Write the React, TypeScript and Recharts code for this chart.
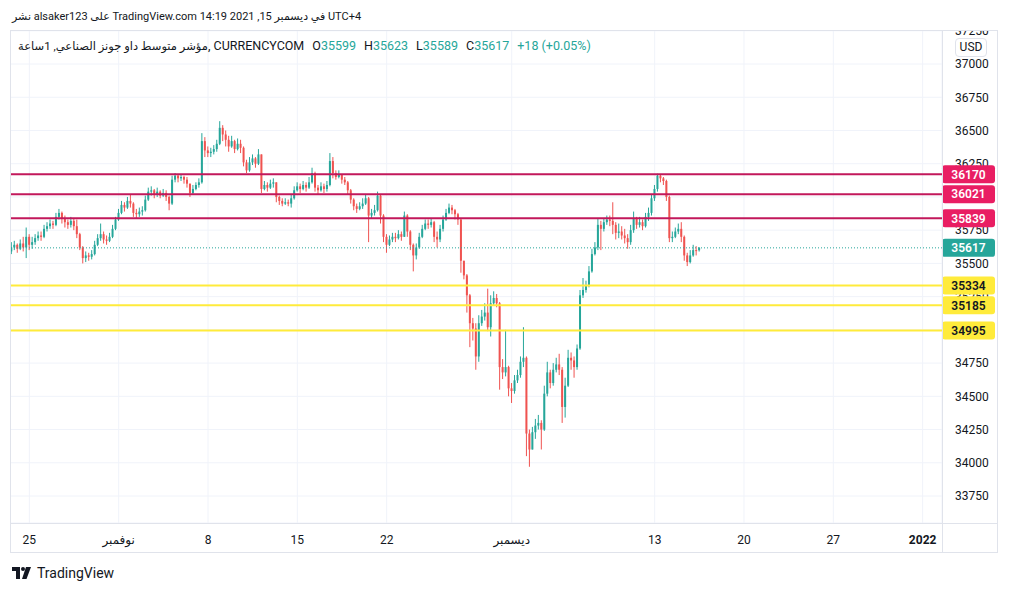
import React from 'react';
import { ComposedChart, Bar, XAxis, YAxis, CartesianGrid, ReferenceLine } from 'recharts';

// 4-hour candles: [close, high, low], open = previous close
const firstOpen = 35590;

const wkOct22 = [
  [35620, 35660, 35570], [35640, 35670, 35600], [35610, 35650, 35580], [35650, 35680, 35600], [35620, 35700, 35590], [35700, 35770, 35540],
];

const wkOct25 = [
  [35640, 35720, 35600], [35660, 35700, 35610], [35690, 35720, 35640], [35710, 35740, 35670], [35700, 35740, 35670], [35760, 35790, 35690],
  [35780, 35810, 35740], [35800, 35830, 35760], [35790, 35820, 35760], [35850, 35880, 35780], [35880, 35910, 35830], [35840, 35890, 35800],
  [35810, 35860, 35770], [35790, 35830, 35760], [35820, 35850, 35770], [35780, 35840, 35750], [35720, 35830, 35690], [35620, 35730, 35600],
  [35540, 35630, 35500], [35560, 35590, 35510], [35550, 35580, 35520], [35570, 35600, 35530], [35640, 35670, 35560], [35690, 35720, 35630],
  [35720, 35800, 35670], [35680, 35740, 35650], [35670, 35710, 35640], [35700, 35730, 35660], [35760, 35790, 35690], [35830, 35850, 35750],
];

const wkNov1 = [
  [35880, 35910, 35820], [35940, 35970, 35870], [35920, 35960, 35890], [35970, 36000, 35910], [35950, 36015, 35920], [35880, 35960, 35850],
  [35870, 35910, 35840], [35890, 35920, 35850], [35900, 35930, 35860], [35980, 36010, 35890], [36040, 36070, 35970], [36050, 36080, 36010],
  [36020, 36060, 35990], [36040, 36070, 36000], [36010, 36050, 35990], [36030, 36060, 36000], [36000, 36050, 35970], [35950, 36010, 35900],
  [36130, 36160, 35940], [36160, 36180, 36110], [36140, 36170, 36110], [36150, 36170, 36120], [36130, 36160, 36100], [36100, 36150, 36070],
  [36030, 36080, 36000], [36060, 36090, 36020], [36090, 36110, 36050], [36110, 36140, 36070], [36420, 36480, 36100], [36350, 36450, 36300],
];

const wkNov8 = [
  [36330, 36380, 36300], [36340, 36370, 36300], [36360, 36390, 36320], [36400, 36430, 36340], [36520, 36570, 36390], [36470, 36540, 36420],
  [36430, 36500, 36380], [36380, 36460, 36340], [36420, 36460, 36370], [36360, 36430, 36330], [36400, 36440, 36350], [36370, 36430, 36330],
  [36260, 36380, 36230], [36200, 36280, 36180], [36260, 36300, 36190], [36290, 36320, 36240], [36250, 36300, 36220], [36320, 36360, 36240],
  [36060, 36320, 36030], [36090, 36120, 36050], [36070, 36110, 36040], [36100, 36130, 36060], [36110, 36140, 36070], [36000, 36110, 35960],
  [35970, 36010, 35940], [35950, 35990, 35930], [35960, 35990, 35940], [35950, 35980, 35930], [35990, 36020, 35920], [36050, 36080, 35980],
];

const wkNov15 = [
  [36080, 36110, 36040], [36060, 36100, 36030], [36090, 36120, 36050], [36070, 36110, 36040], [36110, 36150, 36060], [36180, 36220, 36100],
  [36070, 36190, 36040], [36050, 36090, 36020], [36080, 36110, 36040], [36060, 36100, 36030], [36090, 36120, 36040], [36270, 36330, 36080],
  [36180, 36300, 36140], [36150, 36200, 36130], [36170, 36200, 36140], [36130, 36170, 36100], [36110, 36150, 36090], [36050, 36120, 36020],
  [35980, 36060, 35950], [35930, 35990, 35900], [35910, 35950, 35880], [35930, 35960, 35900], [35950, 35990, 35910], [35990, 36020, 35940],
  [35860, 36000, 35660], [35880, 35910, 35840], [35900, 35940, 35860], [36010, 36040, 35890], [35860, 36020, 35800], [35700, 35870, 35660],
];

const wkNov22 = [
  [35640, 35720, 35580], [35680, 35710, 35630], [35700, 35730, 35660], [35690, 35730, 35660], [35720, 35750, 35680], [35700, 35740, 35670],
  [35860, 35890, 35700], [35740, 35870, 35700], [35640, 35750, 35600], [35560, 35650, 35440], [35620, 35650, 35530], [35700, 35730, 35610],
  [35760, 35790, 35690], [35800, 35830, 35750], [35790, 35830, 35760], [35810, 35840, 35770], [35700, 35820, 35660], [35680, 35740, 35620],
  [35760, 35790, 35660], [35830, 35860, 35740], [35880, 35910, 35820], [35920, 35950, 35870], [35900, 35940, 35870], [35870, 35910, 35830],
  [35830, 35880, 35790], [35520, 35840, 35430], [35410, 35480, 35380], [35260, 35420, 35130], [35050, 35270, 34870], [35010, 35090, 34920],
];

const wkNov29 = [
  [34800, 35050, 34700], [35050, 35110, 34760], [35100, 35150, 35030], [35130, 35200, 35070], [35020, 35310, 34990], [35200, 35260, 34950],
  [35240, 35290, 35180], [35200, 35270, 35170], [34720, 35210, 34550], [34680, 34780, 34630], [34720, 35000, 34650], [34560, 34730, 34500],
  [34540, 34600, 34450], [34620, 34660, 34520], [34660, 34700, 34600], [34760, 34800, 34640], [34790, 35020, 34720], [34220, 34800, 34050],
  [34100, 34250, 33970], [34230, 34270, 34100], [34280, 34330, 34180], [34300, 34360, 34250], [34250, 34320, 34100], [34520, 34580, 34240],
  [34680, 34760, 34500], [34600, 34700, 34560], [34700, 34750, 34580], [34740, 34790, 34680], [34700, 34820, 34660], [34420, 34720, 34300],
];

const wkDec6 = [
  [34580, 34640, 34340], [34790, 34850, 34570], [34770, 34830, 34700], [34720, 34800, 34640], [34860, 34890, 34700], [35260, 35300, 34850],
  [35300, 35390, 35240], [35330, 35370, 35280], [35440, 35480, 35320], [35570, 35610, 35430], [35620, 35660, 35560], [35790, 35840, 35600],
  [35760, 35820, 35600], [35810, 35840, 35740], [35830, 35860, 35790], [35820, 35860, 35780], [35790, 35960, 35720], [35730, 35810, 35680],
  [35740, 35800, 35690], [35710, 35780, 35680], [35690, 35760, 35650], [35660, 35720, 35610], [35750, 35790, 35640], [35840, 35890, 35730],
  [35790, 35850, 35760], [35810, 35850, 35770], [35780, 35830, 35750], [35850, 35880, 35770], [35880, 35920, 35820], [35990, 36020, 35860],
];

const wkDec13 = [
  [36060, 36090, 35970], [36160, 36175, 36040], [36140, 36170, 36110], [36120, 36150, 36090], [36000, 36130, 35970], [35690, 36010, 35660],
  [35700, 35740, 35660], [35740, 35770, 35690], [35760, 35800, 35720], [35700, 35810, 35660], [35560, 35710, 35520], [35510, 35580, 35480],
  [35560, 35600, 35500], [35600, 35640, 35550], [35599, 35630, 35560], [35617, 35623, 35589],
];

const totalSlots = 313;
const tickSlots = [6, 36, 66, 96, 126, 168, 216, 246, 276, 306];
const tickLabels = ['25', 'نوفمبر', '8', '15', '22', 'ديسمبر', '13', '20', '27', '2022'];
const priceTicks = [33750, 34000, 34250, 34500, 34750, 35000, 35250, 35500, 35750, 36000, 36250, 36500, 36750, 37000, 37250];
const resistance = [36170, 36021, 35839];
const support = [35334, 35185, 34995];
const lastPrice = 35617;
const priceDomain = [33547, 37256];

const UP = '#26a69a';
const DOWN = '#ef5350';
const PINK = '#e91e63';
const PINK_LINE = '#c2185b';
const YELLOW = '#ffeb3b';
const TEXT = '#131722';
const GRID = '#f0f3fa';
const BORDER = '#e0e3eb';

const candles = [...wkOct22, ...wkOct25, ...wkNov1, ...wkNov8, ...wkNov15, ...wkNov22, ...wkNov29, ...wkDec6, ...wkDec13];

const data: any[] = [];
let prev = firstOpen;
for (let i = 0; i < totalSlots; i++) {
  const k = candles[i];
  if (k) {
    const [c, h, l] = k;
    const o = prev;
    const hi = Math.max(h, o, c);
    const lo = Math.min(l, o, c);
    data.push({ i, o, c, h: hi, l: lo, range: [lo, hi] });
    prev = c;
  } else {
    data.push({ i, range: null });
  }
}

const Candle = (props: any) => {
  const { x, y, width, height, payload } = props;
  if (!payload || payload.o == null) return null;
  const top = Math.min(y, y + height);
  const hPx = Math.abs(height);
  const span = payload.h - payload.l || 1;
  const py = (v: number) => top + ((payload.h - v) / span) * hPx;
  const cx = x + width / 2;
  const color = payload.c >= payload.o ? UP : DOWN;
  const bTop = py(Math.max(payload.o, payload.c));
  const bBot = py(Math.min(payload.o, payload.c));
  const bw = 2;
  return (
    <g>
      <line x1={cx} x2={cx} y1={top} y2={top + hPx} stroke={color} strokeWidth={1} />
      <rect x={cx - bw / 2} y={bTop} width={bw} height={Math.max(1, bBot - bTop)} fill={color} />
    </g>
  );
};

const XTick = (props: any) => {
  const { x, y, payload } = props;
  const idx = tickSlots.indexOf(payload.value);
  const label = idx >= 0 ? tickLabels[idx] : '';
  return (
    <text x={x} y={y + 19} textAnchor="middle" fontSize={12} fill={TEXT} fontWeight={label === '2022' ? 700 : 400}>
      {label}
    </text>
  );
};

const priceTag = (value: number, bg: string, fg: string) => (props: any) => {
  const vb = props.viewBox;
  if (!vb) return null;
  const x = vb.x + vb.width;
  const y = vb.y;
  return (
    <g>
      <rect x={x} y={y - 9} width={53} height={18} rx={3} fill={bg} />
      <text x={x + 26.5} y={y} dy="0.36em" textAnchor="middle" fontSize={12} fontWeight={600} fill={fg}>
        {value}
      </text>
    </g>
  );
};

const chartBox = { position: 'absolute' as const, left: 10, top: 30 };
const chartMargin = { top: 0, right: 0, bottom: 0, left: 0 };

export default function App() {
  return (
    <div
      style={{
        position: 'fixed',
        left: 0,
        top: 0,
        width: 1010,
        height: 592,
        background: '#ffffff',
        fontFamily: 'Roboto, "DejaVu Sans", sans-serif',
        color: TEXT,
        overflow: 'hidden',
      }}
    >
      <div dir="rtl" style={{ position: 'absolute', left: 12, top: 10, fontSize: 11, whiteSpace: 'nowrap', display: 'inline-block' }}>
        UTC+4 في ديسمبر 15, 2021 14:19 TradingView.com على alsaker123 نشر
      </div>

      {/* candles, grid and axes */}
      <div style={chartBox}>
        <ComposedChart width={988} height={523} data={data} margin={chartMargin}>
          <CartesianGrid stroke={GRID} />
          <XAxis
            dataKey="i"
            type="category"
            ticks={tickSlots}
            interval={0}
            height={30}
            tickLine={false}
            axisLine={false}
            tickSize={0}
            tick={<XTick />}
          />
          <YAxis
            orientation="right"
            width={56}
            type="number"
            domain={priceDomain}
            allowDataOverflow
            ticks={priceTicks}
            interval={0}
            tickLine={false}
            axisLine={false}
            tickSize={0}
            tickMargin={13}
            tick={{ fill: TEXT, fontSize: 12 }}
          />
          <Bar dataKey="range" shape={<Candle />} isAnimationActive={false} />
        </ComposedChart>
      </div>

      {/* horizontal levels and their price tags, drawn above the price scale */}
      <div style={chartBox}>
        <ComposedChart width={988} height={523} data={data} margin={chartMargin}>
          <XAxis dataKey="i" type="category" height={30} tick={false} tickLine={false} axisLine={false} />
          <YAxis
            orientation="right"
            width={56}
            type="number"
            domain={priceDomain}
            allowDataOverflow
            tick={false}
            tickLine={false}
            axisLine={false}
          />
          <ReferenceLine y={lastPrice} stroke={UP} strokeDasharray="1 2" strokeWidth={1} label={priceTag(lastPrice, UP, '#ffffff')} />
          {resistance.map((v) => (
            <ReferenceLine key={v} y={v} stroke={PINK_LINE} strokeWidth={2} label={priceTag(v, PINK, '#ffffff')} />
          ))}
          {support.map((v) => (
            <ReferenceLine key={v} y={v} stroke={YELLOW} strokeWidth={2} label={priceTag(v, YELLOW, TEXT)} />
          ))}
        </ComposedChart>
      </div>

      {/* frame */}
      <div style={{ position: 'absolute', left: 10, top: 30, width: 988, height: 523, boxSizing: 'border-box', border: `1px solid ${BORDER}`, pointerEvents: 'none' }} />
      <div style={{ position: 'absolute', left: 10, top: 523, width: 988, height: 1, background: BORDER }} />
      <div style={{ position: 'absolute', left: 942, top: 30, width: 1, height: 523, background: BORDER }} />

      <div
        style={{
          position: 'absolute',
          left: 955,
          top: 38,
          width: 32,
          height: 19,
          boxSizing: 'border-box',
          border: `1px solid ${BORDER}`,
          borderRadius: 4,
          background: '#ffffff',
          fontSize: 12,
          lineHeight: '17px',
          textAlign: 'center',
        }}
      >
        USD
      </div>

      <div style={{ position: 'absolute', left: 18, top: 38, fontSize: 12.5, whiteSpace: 'nowrap', display: 'flex', alignItems: 'baseline', gap: 8 }}>
        <span dir="ltr">
          <span style={{ fontSize: 11.5 }}>مؤشر متوسط داو جونز الصناعي, 1ساعة</span>, CURRENCYCOM
        </span>
        <span>O<span style={{ color: UP }}>35599</span></span>
        <span>H<span style={{ color: UP }}>35623</span></span>
        <span>L<span style={{ color: UP }}>35589</span></span>
        <span>C<span style={{ color: UP }}>35617</span></span>
        <span style={{ color: UP }}>+18 (+0.05%)</span>
      </div>

      <div style={{ position: 'absolute', left: 12, top: 565, display: 'flex', alignItems: 'center', gap: 5 }}>
        <svg width={20} height={14} viewBox="0 0 20 14">
          <rect x={0} y={1} width={8} height={4} fill={TEXT} />
          <rect x={4} y={1} width={4} height={12} fill={TEXT} />
          <circle cx={11} cy={3} r={2} fill={TEXT} />
          <polygon points="14,1 19,1 14.5,13 10,13" fill={TEXT} />
        </svg>
        <span style={{ fontSize: 14 }}>TradingView</span>
      </div>
    </div>
  );
}
